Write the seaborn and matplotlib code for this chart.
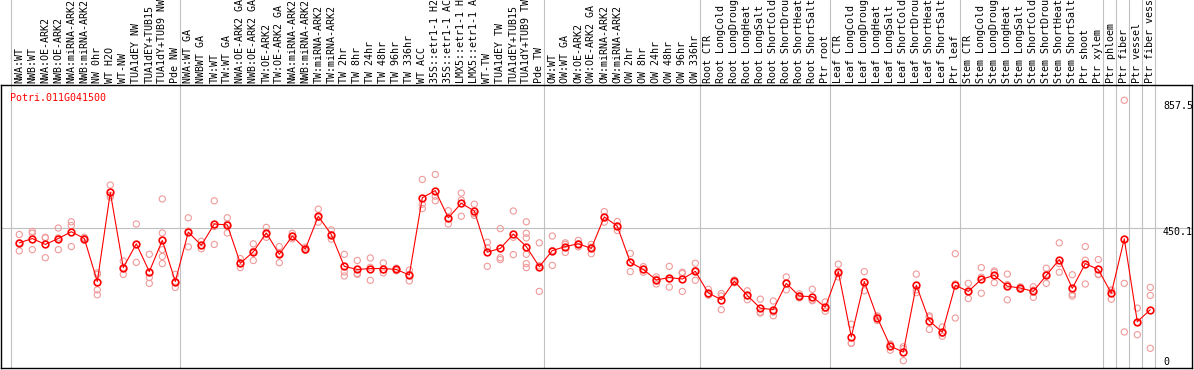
import numpy as np
import pandas as pd
import matplotlib
matplotlib.use("Agg")
import matplotlib.pyplot as plt
import seaborn as sns
from matplotlib.transforms import blended_transform_factory, offset_copy

# ---------------- data ----------------
gene_id = "Potri.011G041500"

labels = [
    "NWA:WT", "NWB:WT", "NWA:OE-ARK2", "NWB:OE-ARK2", "NWA:miRNA-ARK2", "NWB:miRNA-ARK2",
    "NW 0hr", "WT H2O", "WT-NW", "TUA1dEY NW", "TUA1dEY+TUB15", "TUA1dY+TUB9 NW", "Pde NW",
    "NWA:WT GA", "NWBWT GA", "TW:WT", "TW:WT GA", "NWA:OE-ARK2 GA", "NWB:OE-ARK2 GA",
    "TW:OE-ARK2", "TW:OE-ARK2 GA", "NWA:miRNA-ARK2", "NWB:miRNA-ARK2", "TW:miRNA-ARK2",
    "TW:miRNA-ARK2", "TW 2hr", "TW 8hr", "TW 24hr", "TW 48hr", "TW 96hr", "TW 336hr", "WT ACC",
    "35S::etr1-1 H2O", "35S::etr1-1 ACC", "LMX5::etr1-1 H2O", "LMX5::etr1-1 ACC", "WT-TW",
    "TUA1dEY TW", "TUA1dEY+TUB15", "TUA1dY+TUB9 TW", "Pde TW",
    "OW:WT", "OW:WT GA", "OW:OE-ARK2", "OW:OE-ARK2 GA", "OW:miRNA-ARK2", "OW:miRNA-ARK2",
    "OW 2hr", "OW 8hr", "OW 24hr", "OW 48hr", "OW 96hr", "OW 336hr",
    "Root CTR", "Root LongCold", "Root LongDrought", "Root LongHeat", "Root LongSalt",
    "Root ShortCold", "Root ShortDrought", "Root ShortHeat", "Root ShortSalt", "Ptr root",
    "Leaf CTR", "Leaf LongCold", "Leaf LongDrought", "Leaf LongHeat", "Leaf LongSalt",
    "Leaf ShortCold", "Leaf ShortDrought", "Leaf ShortHeat", "Leaf ShortSalt", "Ptr leaf",
    "Stem CTR", "Stem LongCold", "Stem LongDrought", "Stem LongHeat", "Stem LongSalt",
    "Stem ShortCold", "Stem ShortDrought", "Stem ShortHeat", "Stem ShortSalt", "Ptr shoot",
    "Ptr xylem",
    "Ptr phloem", "Ptr fiber", "Ptr vessel", "Ptr fiber vessel",
]

group_sizes = [13, 28, 12, 10, 10, 11, 1, 1, 1, 1]

means = [
    402, 416, 397, 416, 438, 416, 277, 565, 322, 399, 309, 410, 277,
    437, 394, 463, 460, 336, 373, 434, 365, 424, 382, 488, 429, 326, 316, 319, 319, 316,
    298, 548, 571, 483, 530, 505, 372, 384, 430, 390, 325,
    377, 390, 399, 384, 486, 456, 339, 316, 282, 290, 285, 310,
    240, 218, 278, 232, 191, 186, 271, 230, 228, 194,
    309, 98, 277, 160, 68, 49, 265, 150, 113, 265,
    245, 284, 297, 262, 256, 245, 297, 348, 255, 335, 316,
    239, 415, 147, 186,
]

replicates = [
    [429, 402, 376], [439, 433, 380], [420, 418, 354], [450, 418, 380], [470, 458, 390],
    [412, 416, 420], [305, 300, 250, 234], [589, 556, 550], [343, 322, 300], [463, 396, 339],
    [365, 290, 271], [544, 434, 380, 358, 335], [300, 277, 258],
    [483, 440, 389], [407, 394, 383], [538, 455, 397], [483, 463, 434], [351, 336, 322],
    [399, 375, 345], [452, 430, 420], [390, 367, 338], [433, 424, 415], [388, 382, 378],
    [511, 484, 469], [444, 429, 414], [365, 308, 295], [345, 303, 300], [353, 323, 281],
    [337, 315, 305], [320, 316, 312], [314, 300, 279], [607, 527, 513], [623, 553, 538],
    [506, 480, 463], [563, 540, 488], [527, 497, 491], [404, 386, 326], [448, 354, 348],
    [505, 420, 364], [470, 433, 418, 365, 335, 322], [402, 328, 245],
    [424, 377, 329], [402, 397, 371], [410, 399, 389], [397, 388, 367], [503, 486, 469],
    [471, 456, 442], [368, 339, 309], [325, 316, 307], [292, 285, 269], [326, 285, 259],
    [307, 303, 245], [336, 313, 281],
    [252, 235, 233], [238, 230, 186], [282, 278, 273], [247, 231, 218], [220, 178, 175],
    [214, 178, 166], [292, 271, 250], [237, 230, 224], [252, 217, 215], [211, 190, 181],
    [333, 302, 292], [139, 78, 77], [309, 275, 247], [166, 163, 151], [75, 73, 55],
    [66, 60, 21], [301, 250, 241], [166, 162, 122], [130, 109, 100], [367, 269, 159],
    [271, 242, 222], [322, 291, 239], [311, 307, 273], [301, 267, 218], [260, 256, 252],
    [260, 249, 226], [320, 300, 271], [402, 335, 307], [299, 236, 230], [390, 346, 269],
    [348, 301, 299],
    [250, 247, 220], [863, 271, 114], [191, 145, 105], [258, 232, 61],
]

axis_labels = [857.5, 450.1, 0]
grid_value = 450.1

# ---------------- frames ----------------
pos = np.arange(len(labels))
df_mean = pd.DataFrame({"pos": pos, "value": means, "label": labels})
df_rep = pd.DataFrame(
    [(i, v) for i, reps in enumerate(replicates) for v in reps], columns=["pos", "value"]
)

# ---------------- style ----------------
sns.set_style("white")
plt.rcParams["font.family"] = ["DejaVu Sans Mono", "DejaVu Sans"]
FS = 7.2
RED = "#ff0000"
PINK = "#f09a9a"
GRID = "#c0c0c0"

W, H = 1194, 370
fig = plt.figure(figsize=(W / 100, H / 100), dpi=100)
fig.patch.set_facecolor("white")
ax = fig.add_axes([1 / W, 2 / H, 1191 / W, 283 / H])
ax.set_facecolor("white")

ax.set_xlim(-1.408, 90.208)
ax.set_ylim(-2.6, 912.4)

# group separators (extend up through the label header)
bounds = np.cumsum([0] + group_sizes) - 0.64
for b in bounds:
    ax.axvline(b, ymin=0, ymax=368 / 283, color=GRID, lw=0.8, clip_on=False, zorder=0)
ax.axhline(grid_value, color=GRID, lw=0.8, zorder=0)

# replicates
sns.scatterplot(data=df_rep, x="pos", y="value", ax=ax, marker="o", s=20,
                facecolors="none", edgecolor=PINK, linewidth=0.8, zorder=2, legend=False)

# means
sns.lineplot(data=df_mean, x="pos", y="value", ax=ax, sort=False, estimator=None,
             color=RED, linewidth=0.8, marker="o", markersize=4.8,
             markerfacecolor="none", markeredgecolor=RED, markeredgewidth=1.2,
             zorder=3, legend=False)

ax.set_xlabel("")
ax.set_ylabel("")
ax.set_xticks([])
ax.set_yticks([])
for s in ax.spines.values():
    s.set_visible(True)
    s.set_color("black")
    s.set_linewidth(1.0)

# category labels in the header
tr = blended_transform_factory(ax.transData, ax.transAxes)
for i, lab in zip(pos, labels):
    ax.text(i, 1.007, lab, rotation=90, ha="center", va="bottom",
            fontsize=FS, color="black", transform=tr, clip_on=False)

# title
ax.text(9 / 1191, 0.955, gene_id, color=RED, fontsize=FS, ha="left", va="center",
        transform=ax.transAxes)

# value labels on the right
tr_y = blended_transform_factory(ax.transAxes, ax.transData)
for v in axis_labels:
    off = 5 if v == 0 else -4.5
    t = offset_copy(tr_y, fig=fig, y=off, units="dots")
    txt = ("%g" % v)
    ax.text((1163 - 1) / 1191, v, txt, fontsize=FS, color="black",
            ha="left", va="center", transform=t)

fig.savefig("out.png", dpi=100, facecolor="white")
